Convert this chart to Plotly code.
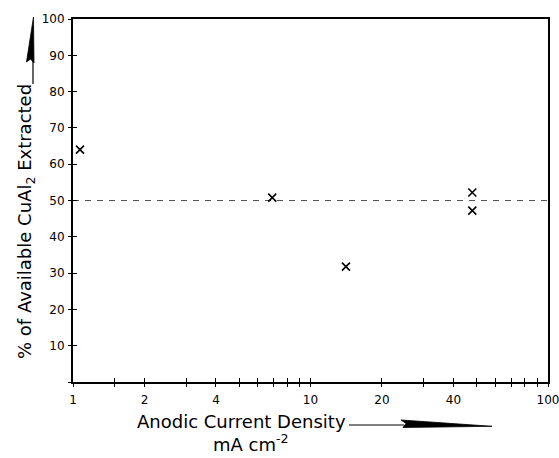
import plotly.graph_objects as go

# ---- data ----
current_density = [1.07, 6.9, 14.1, 48.0, 48.0]      # mA cm^-2
extracted_pct = [64.0, 50.8, 31.8, 52.2, 47.2]        # % of available CuAl2 extracted
ref_level = 50.0

x_tickvals = [1, 1.5, 2, 3, 4, 5, 6, 7, 8, 9, 10, 20, 30, 40, 50, 60, 70, 80, 90, 100]
x_ticktext = ["1", "", "2", "", "4", "", "", "", "", "", "10", "20", "", "40", "", "", "", "", "", "100"]
y_tickvals = [0, 10, 20, 30, 40, 50, 60, 70, 80, 90, 100]
y_ticktext = ["", "10", "20", "30", "40", "50", "60", "70", "80", "90", "100"]

W, H = 559, 458
ML, MR, MT, MB = 73, 11, 19, 76
PW, PH = W - ML - MR, H - MT - MB


def px(x):
    """page pixel x -> paper coordinate"""
    return (x - ML) / PW


def py(y):
    """page pixel y -> paper coordinate"""
    return (H - MB - y) / PH


FONT = "DejaVu Sans, Liberation Sans, sans-serif"

fig = go.Figure()

fig.add_trace(go.Scatter(
    x=[1, 100], y=[ref_level, ref_level], mode="lines",
    line=dict(color="#555555", width=1, dash="6px,6px"),
    hoverinfo="skip", showlegend=False))

fig.add_trace(go.Scatter(
    x=current_density, y=extracted_pct, mode="markers",
    marker=dict(symbol="x-thin", size=8, line=dict(color="black", width=1.6)),
    showlegend=False))

axis_common = dict(color="black", tickfont=dict(family=FONT, size=12, color="black"),
                   showgrid=False, zeroline=False, automargin=False,
                   ticklabeloverflow="allow")

fig.update_layout(
    width=W, height=H,
    margin=dict(l=ML, r=MR, t=MT, b=MB, autoexpand=False),
    paper_bgcolor="white", plot_bgcolor="white",
    font=dict(family=FONT, color="black"),
    xaxis=dict(type="log", range=[0, 2], tickmode="array", tickvals=x_tickvals,
               ticktext=x_ticktext, ticks="outside", ticklen=3, tickwidth=1.2,
               tickcolor="black", showline=True, linecolor="black", linewidth=1.5,
               mirror=True, ticklabelstandoff=3, **axis_common),
    yaxis=dict(range=[0, 100], tickmode="array", tickvals=y_tickvals,
               ticktext=y_ticktext, ticks="outside", ticklen=3, tickwidth=1.2,
               tickcolor="black", showline=True, linecolor="black", linewidth=2,
               mirror=True, ticklabelstandoff=1, **axis_common),
    xaxis2=dict(type="log", range=[0, 2], overlaying="x", anchor="y", side="bottom",
                tickmode="array", tickvals=x_tickvals, ticks="inside", ticklen=4,
                tickwidth=1.2, tickcolor="black", showticklabels=False,
                showline=False, showgrid=False, zeroline=False, automargin=False),
    yaxis2=dict(range=[0, 100], overlaying="y", anchor="x", side="left",
                tickmode="array", tickvals=y_tickvals, ticks="inside", ticklen=4,
                tickwidth=1.2, tickcolor="black", showticklabels=False,
                showline=False, showgrid=False, zeroline=False, automargin=False),
)

# invisible trace to activate the overlay axes
fig.add_trace(go.Scatter(x=[1, 100], y=[0, 100], xaxis="x2", yaxis="y2",
                         mode="markers", marker=dict(opacity=0), hoverinfo="skip",
                         showlegend=False))

fig.add_annotation(text="% of Available CuAl<sub>2</sub> Extracted",
                   xref="paper", yref="paper", x=px(26), y=py(222),
                   xanchor="center", yanchor="middle", textangle=-90,
                   showarrow=False, font=dict(family=FONT, size=18, color="black"))
fig.add_annotation(text="Anodic Current Density",
                   xref="paper", yref="paper", x=px(348), y=py(421),
                   xanchor="right", yanchor="middle",
                   showarrow=False, font=dict(family=FONT, size=18, color="black"))
fig.add_annotation(text="mA cm<sup>-2</sup>",
                   xref="paper", yref="paper", x=px(251), y=py(443),
                   xanchor="center", yanchor="middle",
                   showarrow=False, font=dict(family=FONT, size=18, color="black"))


def path(points):
    return "M " + " L ".join(f"{px(a):.5f},{py(b):.5f}" for a, b in points) + " Z"


# x-title arrow: line + wedge
fig.add_shape(type="line", xref="paper", yref="paper",
              x0=px(349), y0=py(425), x1=px(404), y1=py(425),
              line=dict(color="black", width=1.2))
fig.add_shape(type="path", xref="paper", yref="paper",
              path=path([(401, 420), (492, 426.3), (403, 427.5), (406, 423.5)]),
              fillcolor="black", line=dict(color="black", width=0.8))

# y-title arrow: line + wedge
fig.add_shape(type="line", xref="paper", yref="paper",
              x0=px(33), y0=py(84), x1=px(33), y1=py(60),
              line=dict(color="black", width=1.2))
fig.add_shape(type="path", xref="paper", yref="paper",
              path=path([(33.5, 17), (34, 63), (30.5, 59), (26.5, 62)]),
              fillcolor="black", line=dict(color="black", width=0.8))

fig.write_html("out.html",
               config={"displayModeBar": False},
               post_script="document.body.style.margin='0';document.body.style.overflow='hidden';")
